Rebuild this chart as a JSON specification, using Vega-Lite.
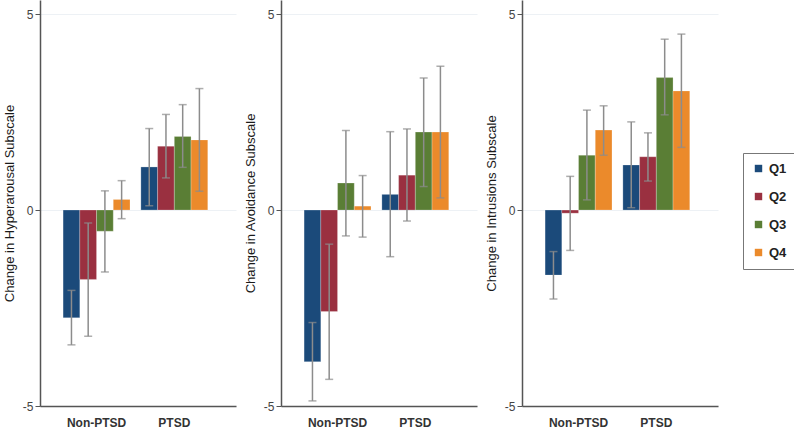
{
  "$schema": "https://vega.github.io/schema/vega-lite/v6.json",
  "background": "white",
  "padding": {"left": 3, "top": 0, "right": 0, "bottom": 0},
  "spacing": 8,
  "config": {
    "view": {"stroke": null},
    "font": "Liberation Sans",
    "axisY": {
      "grid": true,
      "gridColor": "#edf1f5",
      "gridWidth": 1,
      "domainColor": "#555555",
      "domainWidth": 1.5,
      "tickColor": "#555555",
      "tickSize": 5,
      "labelColor": "#444444",
      "labelFontSize": 12,
      "labelPadding": 2,
      "titleFontSize": 13,
      "titleFontWeight": "normal",
      "titleColor": "#1a1a1a",
      "titlePadding": 6
    },
    "axisX": {
      "title": null,
      "labelAngle": 0,
      "ticks": false,
      "labelFontWeight": "bold",
      "labelFontSize": 12,
      "labelColor": "#333333",
      "labelPadding": 11,
      "domainColor": "#555555",
      "domainWidth": 1.5,
      "grid": false
    },
    "legend": {
      "orient": "none",
      "legendX": 703,
      "legendY": 153,
      "title": null,
      "strokeColor": "#777777",
      "padding": 9,
      "symbolType": "square",
      "symbolSize": 55,
      "symbolStrokeWidth": 0,
      "labelFontSize": 13,
      "labelFontWeight": "bold",
      "labelColor": "#222222",
      "rowPadding": 14
    }
  },
  "datasets": {
    "d": [
      {"panel": "Hyperarousal", "group": "Non-PTSD", "q": "Q1", "mean": -2.75, "lo": -3.44, "hi": -2.05},
      {"panel": "Hyperarousal", "group": "Non-PTSD", "q": "Q2", "mean": -1.77, "lo": -3.22, "hi": -0.33},
      {"panel": "Hyperarousal", "group": "Non-PTSD", "q": "Q3", "mean": -0.54, "lo": -1.58, "hi": 0.49},
      {"panel": "Hyperarousal", "group": "Non-PTSD", "q": "Q4", "mean": 0.27, "lo": -0.22, "hi": 0.75},
      {"panel": "Hyperarousal", "group": "PTSD", "q": "Q1", "mean": 1.10, "lo": 0.11, "hi": 2.08},
      {"panel": "Hyperarousal", "group": "PTSD", "q": "Q2", "mean": 1.63, "lo": 0.82, "hi": 2.44},
      {"panel": "Hyperarousal", "group": "PTSD", "q": "Q3", "mean": 1.88, "lo": 1.09, "hi": 2.69},
      {"panel": "Hyperarousal", "group": "PTSD", "q": "Q4", "mean": 1.79, "lo": 0.48, "hi": 3.10},
      {"panel": "Avoidance", "group": "Non-PTSD", "q": "Q1", "mean": -3.87, "lo": -4.87, "hi": -2.87},
      {"panel": "Avoidance", "group": "Non-PTSD", "q": "Q2", "mean": -2.59, "lo": -4.32, "hi": -0.87},
      {"panel": "Avoidance", "group": "Non-PTSD", "q": "Q3", "mean": 0.69, "lo": -0.66, "hi": 2.03},
      {"panel": "Avoidance", "group": "Non-PTSD", "q": "Q4", "mean": 0.10, "lo": -0.69, "hi": 0.88},
      {"panel": "Avoidance", "group": "PTSD", "q": "Q1", "mean": 0.40, "lo": -1.19, "hi": 2.00},
      {"panel": "Avoidance", "group": "PTSD", "q": "Q2", "mean": 0.89, "lo": -0.28, "hi": 2.07},
      {"panel": "Avoidance", "group": "PTSD", "q": "Q3", "mean": 1.99, "lo": 0.60, "hi": 3.37},
      {"panel": "Avoidance", "group": "PTSD", "q": "Q4", "mean": 1.99, "lo": 0.31, "hi": 3.67},
      {"panel": "Intrusions", "group": "Non-PTSD", "q": "Q1", "mean": -1.66, "lo": -2.27, "hi": -1.06},
      {"panel": "Intrusions", "group": "Non-PTSD", "q": "Q2", "mean": -0.08, "lo": -1.03, "hi": 0.86},
      {"panel": "Intrusions", "group": "Non-PTSD", "q": "Q3", "mean": 1.40, "lo": 0.26, "hi": 2.55},
      {"panel": "Intrusions", "group": "Non-PTSD", "q": "Q4", "mean": 2.04, "lo": 1.40, "hi": 2.66},
      {"panel": "Intrusions", "group": "PTSD", "q": "Q1", "mean": 1.15, "lo": 0.06, "hi": 2.25},
      {"panel": "Intrusions", "group": "PTSD", "q": "Q2", "mean": 1.36, "lo": 0.74, "hi": 1.97},
      {"panel": "Intrusions", "group": "PTSD", "q": "Q3", "mean": 3.38, "lo": 2.43, "hi": 4.36},
      {"panel": "Intrusions", "group": "PTSD", "q": "Q4", "mean": 3.04, "lo": 1.60, "hi": 4.49}
    ]
  },
  "resolve": {"scale": {"color": "shared"}},
  "hconcat": [
    {
      "width": 196, "height": 406,
      "data": {"name": "d"},
      "transform": [{"filter": "datum.panel === 'Hyperarousal'"}],
      "encoding": {
        "x": {"field": "group", "type": "nominal", "sort": ["Non-PTSD", "PTSD"], "scale": {"paddingInner": 0.14, "paddingOuter": 0.33, "align": 0.45}},
        "xOffset": {"field": "q", "type": "nominal", "sort": ["Q1", "Q2", "Q3", "Q4"], "scale": {"paddingInner": 0, "paddingOuter": 0}}
      },
      "layer": [
        {
          "mark": {"type": "bar", "stroke": "#ffffff", "strokeWidth": 0.4, "strokeOpacity": 0.6},
          "encoding": {
            "y": {"field": "mean", "type": "quantitative", "scale": {"domain": [-5, 5.36], "nice": false, "zero": false}, "axis": {"title": "Change in Hyperarousal Subscale", "values": [-5, 0, 5], "labelExpr": "'' + datum.value"}},
            "color": {"field": "q", "type": "nominal", "scale": {"domain": ["Q1", "Q2", "Q3", "Q4"], "range": ["#1b4a7a", "#9a3040", "#5a7e35", "#eb8a2b"]}}
          }
        },
        {
          "mark": {"type": "rule", "color": "#8c8c8c", "strokeWidth": 1.5},
          "encoding": {"y": {"field": "lo", "type": "quantitative"}, "y2": {"field": "hi"}}
        },
        {
          "mark": {"type": "tick", "color": "#8c8c8c", "size": 8, "thickness": 1.5},
          "encoding": {"y": {"field": "lo", "type": "quantitative"}}
        },
        {
          "mark": {"type": "tick", "color": "#8c8c8c", "size": 8, "thickness": 1.5},
          "encoding": {"y": {"field": "hi", "type": "quantitative"}}
        }
      ]
    },
    {
      "width": 196, "height": 406,
      "data": {"name": "d"},
      "transform": [{"filter": "datum.panel === 'Avoidance'"}],
      "encoding": {
        "x": {"field": "group", "type": "nominal", "sort": ["Non-PTSD", "PTSD"], "scale": {"paddingInner": 0.14, "paddingOuter": 0.33, "align": 0.45}},
        "xOffset": {"field": "q", "type": "nominal", "sort": ["Q1", "Q2", "Q3", "Q4"], "scale": {"paddingInner": 0, "paddingOuter": 0}}
      },
      "layer": [
        {
          "mark": {"type": "bar", "stroke": "#ffffff", "strokeWidth": 0.4, "strokeOpacity": 0.6},
          "encoding": {
            "y": {"field": "mean", "type": "quantitative", "scale": {"domain": [-5, 5.36], "nice": false, "zero": false}, "axis": {"title": "Change in Avoidance Subscale", "values": [-5, 0, 5], "labelExpr": "'' + datum.value"}},
            "color": {"field": "q", "type": "nominal", "scale": {"domain": ["Q1", "Q2", "Q3", "Q4"], "range": ["#1b4a7a", "#9a3040", "#5a7e35", "#eb8a2b"]}}
          }
        },
        {
          "mark": {"type": "rule", "color": "#8c8c8c", "strokeWidth": 1.5},
          "encoding": {"y": {"field": "lo", "type": "quantitative"}, "y2": {"field": "hi"}}
        },
        {
          "mark": {"type": "tick", "color": "#8c8c8c", "size": 8, "thickness": 1.5},
          "encoding": {"y": {"field": "lo", "type": "quantitative"}}
        },
        {
          "mark": {"type": "tick", "color": "#8c8c8c", "size": 8, "thickness": 1.5},
          "encoding": {"y": {"field": "hi", "type": "quantitative"}}
        }
      ]
    },
    {
      "width": 196, "height": 406,
      "data": {"name": "d"},
      "transform": [{"filter": "datum.panel === 'Intrusions'"}],
      "encoding": {
        "x": {"field": "group", "type": "nominal", "sort": ["Non-PTSD", "PTSD"], "scale": {"paddingInner": 0.14, "paddingOuter": 0.33, "align": 0.45}},
        "xOffset": {"field": "q", "type": "nominal", "sort": ["Q1", "Q2", "Q3", "Q4"], "scale": {"paddingInner": 0, "paddingOuter": 0}}
      },
      "layer": [
        {
          "mark": {"type": "bar", "stroke": "#ffffff", "strokeWidth": 0.4, "strokeOpacity": 0.6},
          "encoding": {
            "y": {"field": "mean", "type": "quantitative", "scale": {"domain": [-5, 5.36], "nice": false, "zero": false}, "axis": {"title": "Change in Intrusions Subscale", "values": [-5, 0, 5], "labelExpr": "'' + datum.value"}},
            "color": {"field": "q", "type": "nominal", "scale": {"domain": ["Q1", "Q2", "Q3", "Q4"], "range": ["#1b4a7a", "#9a3040", "#5a7e35", "#eb8a2b"]}}
          }
        },
        {
          "mark": {"type": "rule", "color": "#8c8c8c", "strokeWidth": 1.5},
          "encoding": {"y": {"field": "lo", "type": "quantitative"}, "y2": {"field": "hi"}}
        },
        {
          "mark": {"type": "tick", "color": "#8c8c8c", "size": 8, "thickness": 1.5},
          "encoding": {"y": {"field": "lo", "type": "quantitative"}}
        },
        {
          "mark": {"type": "tick", "color": "#8c8c8c", "size": 8, "thickness": 1.5},
          "encoding": {"y": {"field": "hi", "type": "quantitative"}}
        }
      ]
    }
  ]
}
